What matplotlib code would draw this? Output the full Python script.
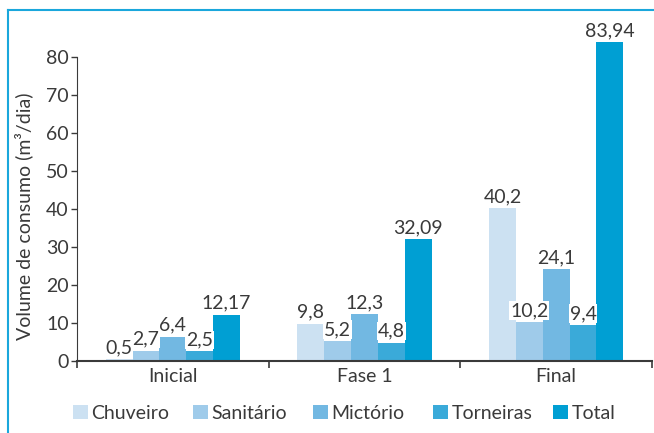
import numpy as np
import matplotlib.pyplot as plt
from matplotlib.lines import Line2D
from matplotlib.patches import Patch

plt.rcParams['font.family'] = ['Lato', 'DejaVu Sans']

fases = ["Inicial", "Fase 1", "Final"]
series = ["Chuveiro", "Sanitário", "Mictório", "Torneiras", "Total"]
chuveiro = [0.5, 9.8, 40.2]
sanitario = [2.7, 5.2, 10.2]
mictorio = [6.4, 12.3, 24.1]
torneiras = [2.5, 4.8, 9.4]
total = [12.17, 32.09, 83.94]
rotulos = [["0,5", "9,8", "40,2"],
           ["2,7", "5,2", "10,2"],
           ["6,4", "12,3", "24,1"],
           ["2,5", "4,8", "9,4"],
           ["12,17", "32,09", "83,94"]]
cores = ["#cce1f2", "#9fcbea", "#72b8e2", "#3aaad9", "#009fd3"]

valores = [chuveiro, sanitario, mictorio, torneiras, total]
TXT = "#3a3a3a"
FS = 14

fig = plt.figure(figsize=(6.54, 4.33), dpi=100)
ax = fig.add_axes([0.1177, 0.1663, 0.8793, 0.7021])

x = np.arange(len(fases))
w = 0.14
for i, (vals, cor) in enumerate(zip(valores, cores)):
    pos = x + (i - 2) * w
    ax.bar(pos, vals, width=w, color=cor, clip_on=False, zorder=2)
    for p, v, r in zip(pos, vals, rotulos[i]):
        ax.text(p, v + 0.8, r, ha="center", va="bottom", fontsize=FS, color=TXT,
                zorder=3, bbox=dict(facecolor="white", edgecolor="none", pad=0.5))

ax.set_xlim(-0.5, 2.5)
ax.set_ylim(0, 80)
ax.set_yticks(range(0, 81, 10))
ax.set_xticks(x)
ax.set_xticklabels(fases)
ax.set_xticks([-0.5, 0.5, 1.5, 2.5], minor=True)
ax.tick_params(axis="x", which="major", length=0, labelsize=FS, labelcolor=TXT, pad=5)
ax.tick_params(axis="x", which="minor", length=5, width=1.2, color=TXT)
ax.tick_params(axis="y", length=4, width=1, color=TXT, labelsize=FS, labelcolor=TXT, pad=2)
for s in ["top", "right"]:
    ax.spines[s].set_visible(False)
ax.spines["left"].set_color(TXT)
ax.spines["bottom"].set_color(TXT)
ax.spines["bottom"].set_linewidth(1.5)
ax.set_ylabel("Volume de consumo (m³/dia)", fontsize=FS, color=TXT)
ax.yaxis.set_label_coords(-0.077, 0.477)

# legenda com espacamento fixo
for i, (nome, cor) in enumerate(zip(series, cores)):
    fig.legend(handles=[Patch(facecolor=cor, edgecolor="none", label=nome)],
               loc="center left", bbox_to_anchor=((73 + i * 120) / 654, 0.046),
               frameon=False, fontsize=FS, handlelength=0.75, handleheight=0.75,
               handletextpad=0.2, borderpad=0, borderaxespad=0, labelcolor=TXT)

# moldura azul
fig.add_artist(Line2D([8 / 654, 1], [1 - 10 / 433, 1 - 10 / 433], color="#1aa7dc", lw=1.5))
fig.add_artist(Line2D([8 / 654, 8 / 654], [0, 1 - 10 / 433], color="#1aa7dc", lw=1.5))

fig.savefig("out.png", dpi=100)
